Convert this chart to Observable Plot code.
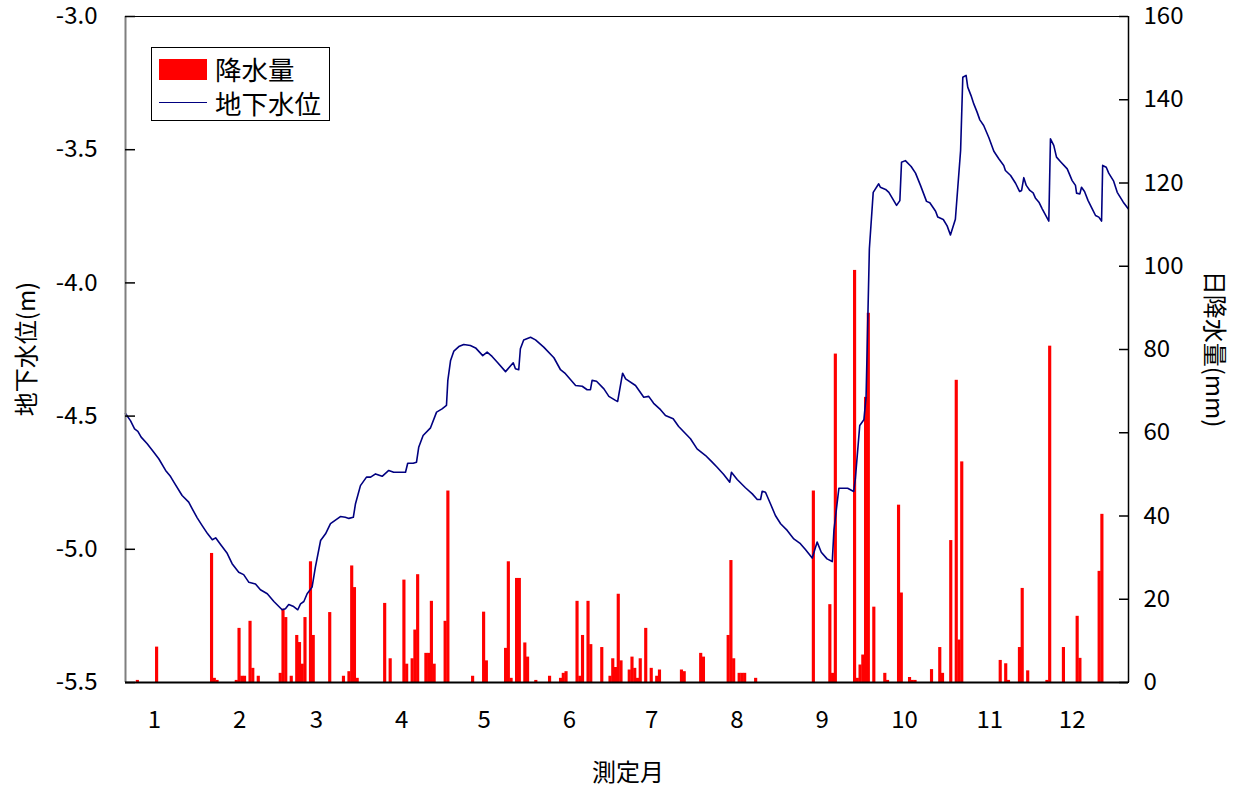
<!DOCTYPE html>
<html><head><meta charset="utf-8">
<script src="https://cdn.jsdelivr.net/npm/d3@7"></script>
<script src="https://cdn.jsdelivr.net/npm/@observablehq/plot@0.6"></script>
<style>
body{margin:0;background:#fff;}
#wrap{position:relative;width:1239px;height:791px;font-family:"Noto Sans CJK JP",sans-serif;color:#000;}
.lab{position:absolute;font-size:24px;line-height:1;white-space:nowrap;}
.lg{position:absolute;font-size:26.5px;line-height:1;white-space:nowrap;}
#legend{position:absolute;left:151px;top:47px;width:179px;height:74px;border:1px solid #000;background:#fff;box-sizing:border-box;}
</style></head><body><div id="wrap"></div>
<script>
const monthLabels = ["1","2","3","4","5","6","7","8","9","10","11","12"];
const monthTicks = [10.5,41.5,69.5,100.5,130.5,161.5,191.5,222.5,253.5,283.5,314.5,344.5];
const levelTicks = [-5.5,-5.0,-4.5,-4.0,-3.5,-3.0];
const rainTicks = [0,20,40,60,80,100,120,140,160];

const rainDay = [4,11,31,32,33,40,41,42,43,45,46,48,56,57,58,60,62,63,64,65,67,68,74,79,81,82,83,84,94,96,101,102,104,105,106,109,110,111,112,116,117,126,130,131,138,139,140,142,143,145,146,149,154,158,159,160,164,165,166,168,169,173,176,177,178,179,180,183,184,185,186,187,189,191,193,194,202,203,209,210,219,220,221,223,224,225,229,250,256,257,258,265,266,267,268,269,270,272,276,277,281,282,285,286,287,293,296,297,300,302,303,304,318,320,321,325,326,328,335,336,341,346,347,354,355];
const rainMm = [0.5,8.5,31,1,0.5,0.5,13,1.5,1.5,14.7,3.4,1.5,2.2,17.6,15.6,1.5,11.3,9.6,4.4,15.6,29,11.3,16.8,1.5,2.6,28,22.8,1,19,5.7,24.6,4.4,5.7,12.6,25.9,7,7,19.5,4.4,14.7,46,1.5,16.9,5.2,8.2,29,1,25,25,9.5,6.1,0.5,1.5,1,2.2,2.6,19.5,1.5,11.3,19.5,9.1,8.4,1.5,5.7,3.6,21.2,5.2,3,6.1,3.4,1,5.7,13,3.4,1.5,3,3,2.6,7,6.1,11.3,29.3,5.7,2.2,2.2,2.2,1,46,18.7,2.2,78.9,99,1,4.2,6.6,68.5,88.7,18.1,2.2,0.5,42.6,21.5,1.2,0.5,0.5,3.1,8.4,2.2,34.1,72.6,10.2,53,5.3,4.5,0.5,8.4,22.6,2.8,0.5,80.8,8.4,15.9,5.8,26.7,40.4];

const levelDay = [0,1.8,3.3,4.5,5.7,7.9,10.3,12.1,14.6,16.4,17.6,20.6,23.0,24.3,26.1,27.9,29.9,31.6,32.8,34.6,37.0,38.8,41.2,43.0,44.9,47.3,49.1,51.6,54.0,57.0,58.2,59.4,61.2,62.7,63.7,64.9,66.1,67.9,69.1,71.0,72.8,74.6,78.2,80.0,81.3,82.9,83.7,85.5,87.7,89.2,91.0,93.4,95.8,97.6,101.9,102.7,104.7,105.9,106.7,108.3,111.0,113.2,115.2,116.8,117.3,118.3,119.5,121.3,123.1,125.5,127.4,130.0,131.6,133.4,135.3,138.3,141.1,141.9,143.1,143.7,144.9,147.4,149.2,152.2,155.9,158.3,160.1,163.8,166.2,168.0,169.2,169.8,171.4,174.1,175.9,178.3,179.1,180.9,182.0,185.6,188.6,190.4,192.2,194.7,196.5,199.3,201.3,205.6,208.0,211.1,213.5,215.3,217.7,219.9,220.5,222.6,225.6,228.1,229.9,231.1,231.7,232.9,234.7,236.5,238.4,240.8,243.2,245.6,247.5,249.9,251.7,253.2,255.3,257.2,257.8,259.6,262.8,265.0,265.6,267.2,268.7,269.5,270.7,272.1,274.1,274.7,276.6,277.8,280.6,281.8,282.4,283.8,285.9,287.5,289.3,291.5,292.7,294.8,295.6,297.6,299.0,300.2,302.0,303.9,304.7,305.9,306.5,307.7,308.7,309.9,310.9,312.3,314.2,316.0,317.8,319.6,320.2,322.1,323.9,325.4,326.1,326.9,327.8,329.1,330.3,331.1,332.4,333.6,336.0,336.6,337.8,338.8,340.2,342.7,344.5,345.7,346.1,347.3,347.9,349.0,350.3,351.8,353.0,354.2,355.2,355.6,356.9,357.8,359.6,360.9,363.1,364.9];
const levelM = [-4.490,-4.517,-4.548,-4.557,-4.579,-4.604,-4.636,-4.660,-4.704,-4.727,-4.748,-4.798,-4.823,-4.848,-4.882,-4.911,-4.942,-4.964,-4.957,-4.982,-5.015,-5.054,-5.086,-5.095,-5.124,-5.130,-5.152,-5.167,-5.196,-5.227,-5.223,-5.207,-5.215,-5.227,-5.205,-5.196,-5.167,-5.142,-5.067,-4.967,-4.942,-4.904,-4.877,-4.880,-4.884,-4.880,-4.829,-4.761,-4.729,-4.729,-4.717,-4.726,-4.704,-4.711,-4.711,-4.677,-4.677,-4.673,-4.617,-4.573,-4.544,-4.485,-4.473,-4.460,-4.366,-4.291,-4.256,-4.239,-4.231,-4.235,-4.244,-4.273,-4.260,-4.276,-4.298,-4.333,-4.300,-4.322,-4.326,-4.247,-4.214,-4.204,-4.214,-4.241,-4.281,-4.326,-4.341,-4.385,-4.388,-4.401,-4.401,-4.366,-4.369,-4.398,-4.426,-4.441,-4.445,-4.339,-4.360,-4.385,-4.429,-4.426,-4.452,-4.476,-4.498,-4.510,-4.539,-4.585,-4.623,-4.648,-4.673,-4.692,-4.719,-4.748,-4.711,-4.738,-4.769,-4.792,-4.813,-4.813,-4.782,-4.786,-4.829,-4.873,-4.904,-4.929,-4.961,-4.979,-5.002,-5.033,-4.973,-5.011,-5.036,-5.046,-4.929,-4.771,-4.771,-4.783,-4.735,-4.535,-4.514,-4.429,-3.872,-3.660,-3.628,-3.641,-3.649,-3.660,-3.709,-3.691,-3.547,-3.541,-3.563,-3.588,-3.634,-3.694,-3.699,-3.731,-3.753,-3.762,-3.786,-3.820,-3.761,-3.503,-3.228,-3.221,-3.265,-3.297,-3.328,-3.359,-3.388,-3.409,-3.455,-3.506,-3.534,-3.559,-3.578,-3.597,-3.626,-3.657,-3.653,-3.605,-3.634,-3.653,-3.662,-3.681,-3.697,-3.722,-3.768,-3.459,-3.484,-3.528,-3.544,-3.572,-3.616,-3.634,-3.663,-3.666,-3.641,-3.657,-3.691,-3.722,-3.747,-3.753,-3.768,-3.559,-3.566,-3.588,-3.618,-3.660,-3.697,-3.722];

const W = 1239, H = 791, mL = 125, mR = 111, mT = 16, mB = 109;
const yMin = -5.5, yMax = -3.0, rainMax = 160;
const toY = mm => yMin + mm / rainMax * (yMax - yMin);
const fromY = v => Math.round((v - yMin) / (yMax - yMin) * rainMax);
const rain = rainDay.map((d, i) => ({d, mm: rainMm[i]}));
const level = levelDay.map((d, i) => ({d, v: levelM[i]}));
const plotW = W - mL - mR;

const chart = Plot.plot({
  width: W, height: H,
  marginLeft: mL, marginRight: mR, marginTop: mT, marginBottom: mB,
  style: {fontFamily: '"Noto Sans CJK JP", sans-serif', fontSize: "24px", color: "#000", background: "#fff", overflow: "visible"},
  x: {domain: [0, 365]},
  y: {domain: [yMin, yMax]},
  marks: [
    Plot.rect(rain, {x1: d => d.d, x2: d => d.d + 1, y1: () => yMin, y2: d => toY(d.mm), fill: "#ff0000", insetLeft: -0.2, insetRight: -0.2}),
    Plot.line(level, {x: "d", y: "v", stroke: "#000080", strokeWidth: 1.6}),
    Plot.frame({stroke: "#000", strokeWidth: 1}),
    Plot.ruleX([0], {stroke: "#7f7f7f", strokeWidth: 2}),
    Plot.ruleX([365], {stroke: "#000", strokeWidth: 1.5}),
    Plot.ruleY([yMin], {stroke: "#000", strokeWidth: 2}),
    Plot.tickY(levelTicks, {y: d => d, insetRight: plotW - 10, stroke: "#000", strokeWidth: 1.5}),
    Plot.tickY(rainTicks, {y: d => toY(d), insetLeft: plotW - 9, stroke: "#000", strokeWidth: 1.5}),
    Plot.axisY(levelTicks, {anchor: "left", tickSize: 0, tickPadding: 28, tickFormat: d => d.toFixed(1), label: null}),
    Plot.axisY(rainTicks.map(toY), {anchor: "right", tickSize: 0, tickPadding: 15, tickFormat: d => String(fromY(d)), label: null}),
    Plot.axisX(monthTicks, {anchor: "bottom", tickSize: 0, tickPadding: 28, tickFormat: d => monthLabels[monthTicks.indexOf(d)], label: null})
  ]
});
const wrap = document.getElementById("wrap");
wrap.appendChild(chart);

function addLabel(text, x, y, rot) {
  const s = document.createElement("div");
  s.className = "lab";
  s.textContent = text;
  s.style.left = x + "px";
  s.style.top = y + "px";
  s.style.transform = `translate(-50%,-50%) rotate(${rot}deg)`;
  wrap.appendChild(s);
}
addLabel("地下水位(m)", 25, 349, -90);
addLabel("日降水量(mm)", 1216, 349, 90);
addLabel("測定月", 628, 771, 0);

const lg = document.createElement("div");
lg.id = "legend";
lg.innerHTML = `
 <div style="position:absolute;left:7px;top:11px;width:48px;height:21px;background:#ff0000"></div>
 <div class="lg" style="left:63px;top:8px;">降水量</div>
 <div style="position:absolute;left:7px;top:54px;width:48px;height:0;border-top:1.6px solid #000080"></div>
 <div class="lg" style="left:63px;top:42px;">地下水位</div>`;
wrap.appendChild(lg);
</script></body></html>
